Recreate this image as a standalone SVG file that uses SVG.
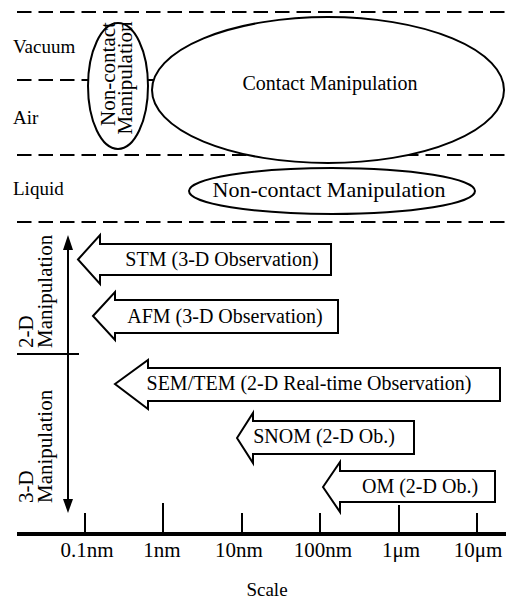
<svg xmlns="http://www.w3.org/2000/svg" width="506" height="602" viewBox="0 0 506 602">
<style>
  text { font-family: "Liberation Serif", "DejaVu Serif", serif; fill: #000; }
  .dash { stroke: #000; stroke-width: 2; stroke-dasharray: 14.5 7; fill: none; }
  .shape { fill: #fff; stroke: #000; stroke-width: 2; }
  .lbl { font-size: 19px; }
  .t20 { font-size: 20px; text-anchor: middle; }
  .t21 { font-size: 21px; }
  .tick { stroke: #000; stroke-width: 2; }
  .ax { stroke: #000; stroke-width: 2; fill: none; }
  .head { fill: #000; }
</style>
<rect width="506" height="602" fill="#fff"/>

<!-- environment bands -->
<g id="bands">
  <line class="dash" x1="17" y1="12" x2="506" y2="12"/>
  <line class="dash" x1="17" y1="80" x2="88" y2="80"/>
  <line class="dash" x1="17" y1="155" x2="506" y2="155"/>
  <line class="dash" x1="17" y1="222" x2="506" y2="222"/>
  <text class="lbl" x="13" y="53" font-family="Liberation Serif, serif">Vacuum</text>
  <text class="lbl" x="13" y="124" font-family="Liberation Serif, serif">Air</text>
  <text class="lbl" x="13" y="195" font-family="Liberation Serif, serif">Liquid</text>
</g>

<g id="connectors">
  <line x1="147" y1="80" x2="153" y2="80" stroke="#000" stroke-width="2"/>
</g>

<g id="contact-manipulation">
  <ellipse class="shape" cx="328" cy="90" rx="176" ry="73"/>
  <text class="t20" x="330" y="90">Contact Manipulation</text>
</g>

<g id="noncontact-vacuum-air">
  <ellipse class="shape" cx="118" cy="86" rx="30" ry="63"/>
  <text class="t21" text-anchor="middle" transform="translate(115,74) rotate(-90)">Non-contact</text>
  <text class="t21" text-anchor="middle" transform="translate(132,78) rotate(-90)">Manipulation</text>
</g>

<g id="noncontact-liquid">
  <ellipse class="shape" cx="332" cy="191" rx="143" ry="23"/>
  <text class="t20" x="329" y="197" style="font-size:22px">Non-contact Manipulation</text>
</g>

<!-- axes -->
<g id="axes">
  <line class="ax" x1="68" y1="248" x2="68" y2="501"/>
  <path class="head" d="M68,235 L63,250 L73,250 Z"/>
  <path class="head" d="M68,513 L63,499 L73,499 Z"/>
  <line class="ax" x1="17" y1="354" x2="79" y2="354"/>
  <text class="t21" transform="translate(33,348) rotate(-90)">2-D</text>
  <text class="t21" transform="translate(52,348) rotate(-90)">Manipulation</text>
  <text class="t21" transform="translate(33,503) rotate(-90)">3-D</text>
  <text class="t21" transform="translate(52,503) rotate(-90)">Manipulation</text>

  <line x1="17" y1="534" x2="506" y2="534" stroke="#000" stroke-width="4"/>
  <line class="tick" x1="85" y1="513" x2="85" y2="534"/>
  <line class="tick" x1="163" y1="503" x2="163" y2="534"/>
  <line class="tick" x1="242" y1="513" x2="242" y2="534"/>
  <line class="tick" x1="320" y1="513" x2="320" y2="534"/>
  <line class="tick" x1="399" y1="505" x2="399" y2="534"/>
  <line class="tick" x1="477" y1="513" x2="477" y2="534"/>
  <text class="t21" x="87" y="557" text-anchor="middle">0.1nm</text>
  <text class="t21" x="162" y="557" text-anchor="middle">1nm</text>
  <text class="t21" x="239" y="557" text-anchor="middle">10nm</text>
  <text class="t21" x="323" y="557" text-anchor="middle">100nm</text>
  <text class="t21" x="401" y="557" text-anchor="middle">1μm</text>
  <text class="t21" x="478" y="557" text-anchor="middle">10μm</text>
  <text class="lbl" x="267" y="596" text-anchor="middle">Scale</text>
</g>

<!-- observation block arrows -->
<g id="stm">
  <path class="shape" d="M78,259.5 L100,235 L100,244 L331,244 L331,275 L100,275 L100,284 Z"/>
  <text class="t20" x="222" y="266">STM (3-D Observation)</text>
</g>
<g id="afm">
  <path class="shape" d="M93,316 L115,292 L115,300 L338,300 L338,333 L115,333 L115,340 Z"/>
  <text class="t20" x="225" y="323">AFM (3-D Observation)</text>
</g>
<g id="semtem">
  <path class="shape" d="M115,384 L148,360 L148,368 L500,368 L500,401 L148,401 L148,409 Z"/>
  <text class="t20" x="309" y="390">SEM/TEM (2-D Real-time Observation)</text>
</g>
<g id="snom">
  <path class="shape" d="M237,438 L253,413 L253,421 L414,421 L414,454 L253,454 L253,463 Z"/>
  <text class="t20" x="324" y="443">SNOM (2-D Ob.)</text>
</g>
<g id="om">
  <path class="shape" d="M323,487 L340,462 L340,471 L495,471 L495,502 L340,502 L340,512 Z"/>
  <text class="t20" x="420" y="493">OM (2-D Ob.)</text>
</g>
</svg>
